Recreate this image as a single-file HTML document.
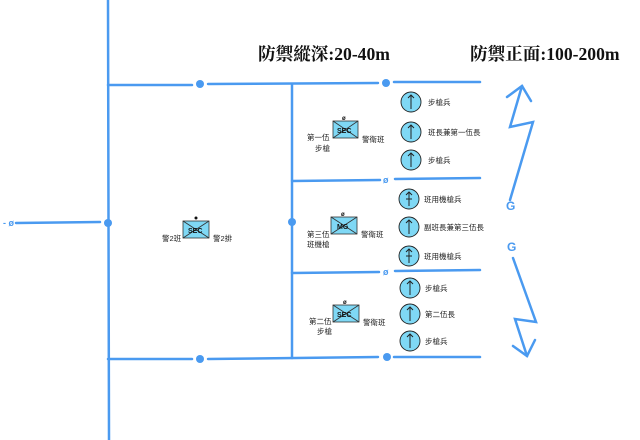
<!DOCTYPE html>
<html><head><meta charset="utf-8"><style>
html,body{margin:0;padding:0;background:#fff;}
svg{display:block;}
.t{font-family:"Liberation Sans","Noto Sans CJK TC",sans-serif;font-size:7.5px;fill:#222;}
.h{font-family:"Liberation Serif","Noto Serif CJK SC",serif;font-size:17.6px;font-weight:bold;fill:#111;}
</style></head><body>
<svg width="640" height="440" viewBox="0 0 640 440" xmlns="http://www.w3.org/2000/svg">
<g stroke="#4a9af0" stroke-width="2.5" fill="none" stroke-linecap="round">
<line x1="108" y1="0" x2="109" y2="440"/>
<line x1="292" y1="85" x2="292" y2="358"/>
<line x1="108" y1="85" x2="192" y2="85"/><line x1="208" y1="84" x2="378" y2="83"/><line x1="394" y1="82" x2="480" y2="82"/>
<line x1="292" y1="181" x2="380" y2="180"/><line x1="395" y1="179" x2="480" y2="178"/>
<line x1="292" y1="273" x2="379" y2="272"/><line x1="395" y1="271" x2="480" y2="270"/>
<line x1="108" y1="359" x2="192" y2="359"/><line x1="208" y1="359" x2="378" y2="357"/><line x1="394" y1="357" x2="480" y2="357"/>
<line x1="16" y1="223" x2="100" y2="222"/>
<polyline points="510,200 533,122 510,127 522,86"/><polyline points="507,97 522,86 531,101"/>
<polyline points="513,258 536,322 515,319 527,356"/><polyline points="513,346 527,356 535,340"/>
</g>
<g fill="#4a9af0">
<circle cx="200" cy="84" r="4"/><circle cx="386" cy="83" r="4"/>
<circle cx="108" cy="223" r="4"/><circle cx="292" cy="222" r="4"/>
<circle cx="200" cy="359" r="4"/><circle cx="387" cy="357" r="4"/>
</g>
<g font-family="Liberation Sans,sans-serif" font-weight="bold" fill="#4a9af0">
<text x="3" y="226" font-size="9">- ø</text>
<text x="383" y="183" font-size="9">ø</text>
<text x="383" y="275" font-size="9">ø</text>
<text x="506" y="210" font-size="12">G</text>
<text x="507" y="251" font-size="12">G</text>
</g>
<text class="h" x="258" y="60">防禦縱深:20-40m</text>
<text class="h" x="470" y="60">防禦正面:100-200m</text>
<g stroke="#333" stroke-width="0.8">
<rect x="333" y="121" width="25" height="17" fill="#7fd8f5"/><line x1="333" y1="121" x2="358" y2="138"/><line x1="358" y1="121" x2="333" y2="138"/>
<rect x="331" y="217" width="26" height="17" fill="#7fd8f5"/><line x1="331" y1="217" x2="357" y2="234"/><line x1="357" y1="217" x2="331" y2="234"/>
<rect x="333" y="305" width="26" height="17" fill="#7fd8f5"/><line x1="333" y1="305" x2="359" y2="322"/><line x1="359" y1="305" x2="333" y2="322"/>
<rect x="183" y="221" width="26" height="17" fill="#7fd8f5"/><line x1="183" y1="221" x2="209" y2="238"/><line x1="209" y1="221" x2="183" y2="238"/>
</g>
<circle cx="196" cy="218" r="1.5" fill="#111"/>
<g font-family="Liberation Sans,sans-serif" font-weight="bold" font-size="7" fill="#111">
<text x="337" y="133">SEC</text><text x="337" y="229">MG</text><text x="337" y="317">SEC</text><text x="188" y="233">SEC</text>
<text x="342" y="120" font-size="6">ø</text><text x="341" y="216" font-size="6">ø</text><text x="343" y="304" font-size="6">ø</text>
</g>
<text class="t" x="307" y="140">第一伍</text><text class="t" x="315" y="151">步槍</text><text class="t" x="362" y="142">警衛班</text>
<text class="t" x="307" y="237">第三伍</text><text class="t" x="307" y="247">班機槍</text><text class="t" x="361" y="237">警衛班</text>
<text class="t" x="309" y="324">第二伍</text><text class="t" x="317" y="334">步槍</text><text class="t" x="363" y="325">警衛班</text>
<text class="t" x="162" y="241">警2班</text><text class="t" x="213" y="241">警2排</text>
<g stroke="#222" stroke-width="0.9" fill="#7fd8f5">
<circle cx="411" cy="102" r="10"/><circle cx="411" cy="132" r="10"/><circle cx="411" cy="160" r="10"/>
<circle cx="409" cy="199" r="10"/><circle cx="409" cy="227" r="10"/><circle cx="409" cy="256" r="10"/>
<circle cx="410" cy="288" r="10"/><circle cx="410" cy="314" r="10"/><circle cx="410" cy="341" r="10"/>
</g>
<g stroke="#222" stroke-width="1" fill="none">
<path d="M411 109V95M408 98L411 95L414 98"/><path d="M411 139V125M408 128L411 125L414 128"/><path d="M411 167V153M408 156L411 153L414 156"/>
<path d="M409 206V192M406 195L409 192L412 195M406 199H412"/><path d="M409 234V220M406 223L409 220L412 223"/><path d="M409 263V249M406 252L409 249L412 252M406 256H412"/>
<path d="M410 295V281M407 284L410 281L413 284"/><path d="M410 321V307M407 310L410 307L413 310"/><path d="M410 348V334M407 337L410 334L413 337"/>
</g>
<text class="t" x="428" y="105">步槍兵</text><text class="t" x="428" y="135">班長兼第一伍長</text><text class="t" x="428" y="163">步槍兵</text>
<text class="t" x="424" y="202">班用機槍兵</text><text class="t" x="424" y="230">副班長兼第三伍長</text><text class="t" x="424" y="259">班用機槍兵</text>
<text class="t" x="425" y="291">步槍兵</text><text class="t" x="425" y="317">第二伍長</text><text class="t" x="425" y="344">步槍兵</text>
</svg>
</body></html>
